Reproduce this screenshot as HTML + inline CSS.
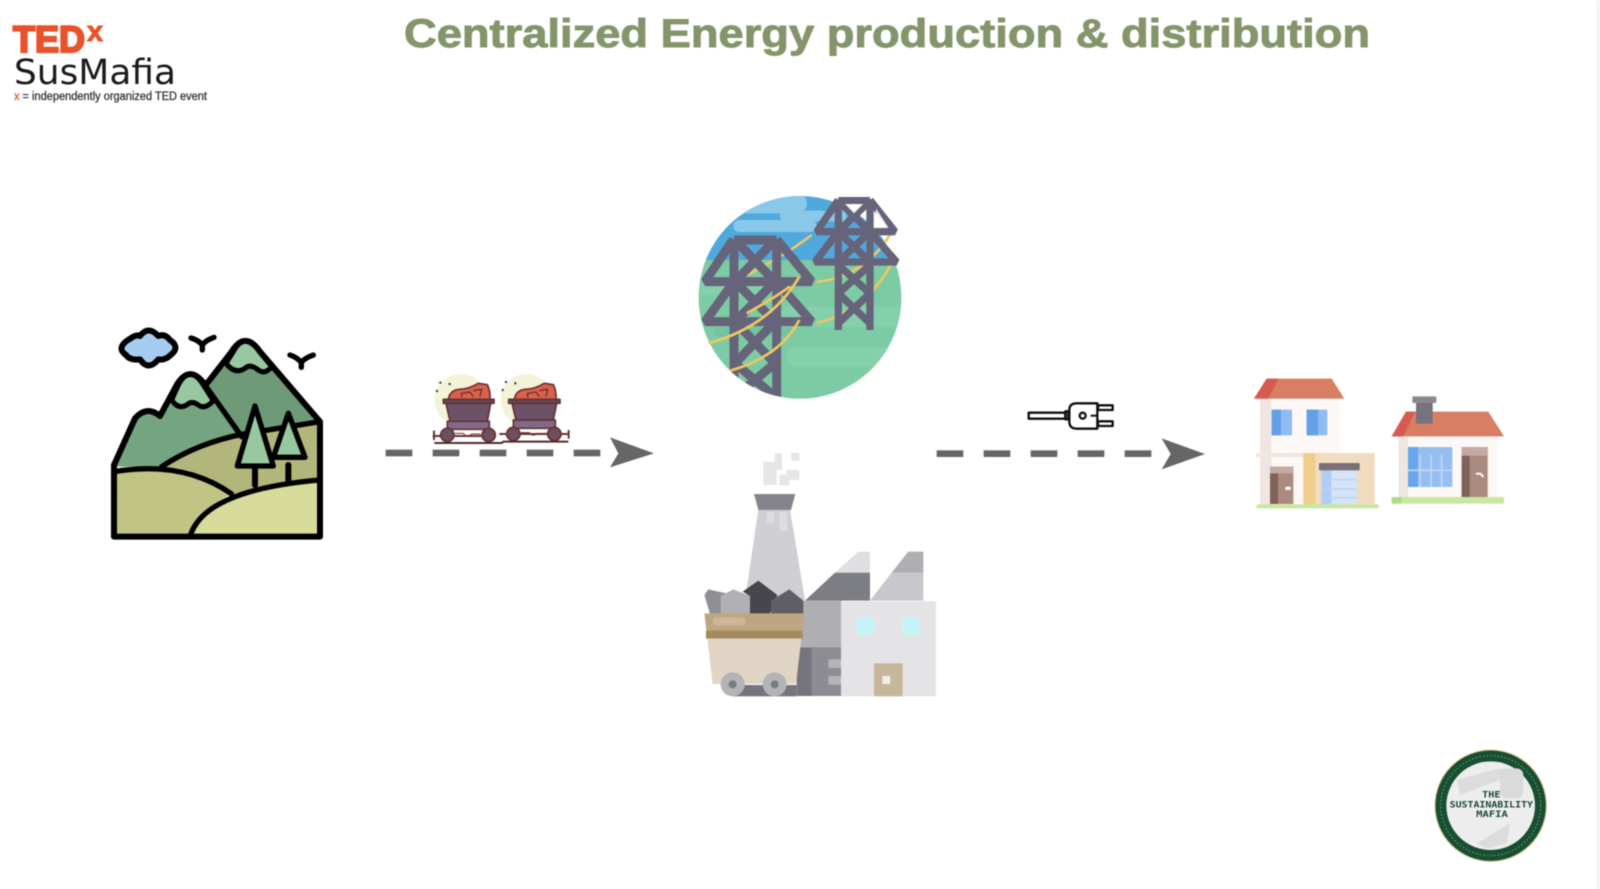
<!DOCTYPE html>
<html><head><meta charset="utf-8"><style>
html,body{margin:0;padding:0;background:#fff;width:1600px;height:889px;overflow:hidden}
svg{display:block;filter:blur(.65px)}
</style></head><body>
<svg width="1600" height="889" viewBox="0 0 1600 889" xmlns="http://www.w3.org/2000/svg">
<defs>
<clipPath id="globe"><circle cx="360" cy="352" r="304"/></clipPath>
</defs>
<rect width="1600" height="889" fill="#fff"/>
<rect x="1596" y="0" width="4" height="889" fill="#f4f4f4"/>

<!-- title -->
<text x="404" y="47" font-family="'Liberation Sans',sans-serif" font-weight="700" font-size="40" fill="#84956b" stroke="#84956b" stroke-width=".9" textLength="966" lengthAdjust="spacingAndGlyphs">Centralized Energy production &amp; distribution</text>

<!-- logo -->
<text x="13" y="52" font-family="'Liberation Sans',sans-serif" font-weight="700" font-size="37" fill="#e8532b" stroke="#e8532b" stroke-width="2.2" textLength="72" lengthAdjust="spacingAndGlyphs">TED</text>
<text x="87" y="41" font-family="'Liberation Sans',sans-serif" font-weight="700" font-size="29" fill="#e8532b" stroke="#e8532b" stroke-width="1" textLength="16" lengthAdjust="spacingAndGlyphs">x</text>
<text x="14" y="84" font-family="'DejaVu Sans',sans-serif" font-size="35" fill="#1a1a1a" textLength="162" lengthAdjust="spacingAndGlyphs">SusMafia</text>
<text x="14" y="100" font-family="'Liberation Sans',sans-serif" font-size="11.5" fill="#333" stroke="#333" stroke-width=".3" textLength="193" lengthAdjust="spacingAndGlyphs"><tspan fill="#e8532b" stroke="#e8532b">x</tspan> = independently organized TED event</text>

<!-- mountains -->
<g transform="translate(90,310) scale(.33333)" stroke-linejoin="round" stroke-linecap="round">
<path d="M335,225 L425,125 Q465,60 510,125 L690,335 L460,375Z" fill="#6f9a78"/>
<path d="M72,470 L135,325 Q170,285 210,318 L260,225 Q300,160 345,225 L455,380 Q320,400 215,470Z" fill="#74a480"/>
<path d="M408,160 L430,125 Q465,60 510,125 L545,170 Q525,195 505,180 Q480,160 465,175 Q435,195 408,160Z" fill="#98c8a0" stroke="#000" stroke-width="15"/>
<path d="M245,270 L265,225 Q300,160 340,225 L370,272 Q345,300 325,285 Q305,270 290,285 Q265,300 245,270Z" fill="#98c8a0" stroke="#000" stroke-width="15"/>
<path d="M210,470 Q320,400 460,372 L690,335 V512 L425,552 Q340,475 210,470Z" fill="#b2b67a"/>
<path d="M72,485 Q280,450 425,552 Q340,590 300,680 H72Z" fill="#c1c485"/>
<path d="M300,680 Q340,540 690,510 V680Z" fill="#d8dc9a"/>
<path d="M72,485 Q280,450 425,552" fill="none" stroke="#000" stroke-width="16"/>
<path d="M215,470 Q320,400 460,372 L690,335" fill="none" stroke="#000" stroke-width="16"/>
<path d="M300,680 Q340,540 690,510" fill="none" stroke="#000" stroke-width="16"/>
<path d="M72,680 V465 L135,325 Q170,285 210,318 L260,225 Q300,160 345,225 L355,215 L425,125 Q465,60 510,125 L690,335 V680Z" fill="none" stroke="#000" stroke-width="18"/>
<path d="M345,225 L455,380" fill="none" stroke="#000" stroke-width="16"/>
<path d="M595,465 V515" stroke="#000" stroke-width="18" fill="none"/>
<path d="M495,465 V525" stroke="#000" stroke-width="18" fill="none"/>
<path d="M595,310 L645,442 H550Z" fill="#98c8a0" stroke="#000" stroke-width="16"/>
<path d="M495,288 L550,468 H442Z" fill="#98c8a0" stroke="#000" stroke-width="16"/>
<path d="M122,85 Q140,72 150,78 Q175,45 205,78 Q225,70 240,90 Q272,112 242,135 Q225,152 205,148 Q175,185 150,148 Q120,152 108,135 Q75,112 122,85Z" fill="#a6cdf0" stroke="#000" stroke-width="18"/>
<path d="M303,84 Q325,90 337,105 Q345,92 372,82 M337,105 V120" fill="none" stroke="#000" stroke-width="16"/>
<path d="M600,135 Q622,142 634,158 Q642,145 670,135 M634,158 V172" fill="none" stroke="#000" stroke-width="16"/>
</g>

<!-- arrow 1 -->
<g transform="translate(370,360) scale(.33333)">
<circle cx="272" cy="120" r="78" fill="#f2f3d8"/>
<circle cx="470" cy="120" r="78" fill="#f2f3d8"/>
<g stroke="#6a3030" stroke-width="5" stroke-linejoin="round">
<path d="M235,118 Q240,90 268,88 Q295,88 325,70 L352,74 Q362,95 360,118Z" fill="#d9614a"/>
<path d="M275,112 V100 L300,96 L310,110 M310,92 L335,88 L330,110" fill="none" stroke-width="4"/>
<path d="M220,118 H372 V130 H220Z" fill="#60485a"/>
<path d="M228,130 H362 L352,184 H240Z" fill="#6b5268"/>
<path d="M232,184 H358 V208 H232Z" fill="#806a8a"/>
<path d="M188,228 H378" fill="none" stroke-width="6"/>
<path d="M192,212 V240" fill="none" stroke-width="6"/>
<circle cx="232" cy="225" r="20" fill="#6b5060"/>
<circle cx="356" cy="225" r="20" fill="#6b5060"/>
<path d="M255,220 H280 Q290,235 305,222 H332" fill="none" stroke-width="3"/>
</g>
<g stroke="#6a3030" stroke-width="5" stroke-linejoin="round">
<path d="M433,118 Q438,90 466,88 Q493,88 523,70 L550,74 Q560,95 558,118Z" fill="#d9614a"/>
<path d="M473,112 V100 L498,96 L508,110 M508,92 L533,88 L528,110" fill="none" stroke-width="4"/>
<path d="M416,118 H570 V130 H416Z" fill="#60485a"/>
<path d="M426,130 H560 L550,180 H438Z" fill="#6b5268"/>
<path d="M430,180 H556 V205 H430Z" fill="#806a8a"/>
<path d="M388,222 H598" fill="none" stroke-width="6"/>
<path d="M596,210 V236" fill="none" stroke-width="6"/>
<circle cx="430" cy="222" r="20" fill="#6b5060"/>
<circle cx="553" cy="222" r="20" fill="#6b5060"/>
<path d="M452,218 H478 Q490,232 502,220 H530" fill="none" stroke-width="3"/>
</g>
<path d="M193,249 H395 L400,245 H595" stroke="#55282c" stroke-width="6" fill="none"/>
<g fill="#333"><circle cx="211" cy="68" r="3.5"/><circle cx="239" cy="72" r="3.5"/><circle cx="201" cy="93" r="3.5"/><circle cx="408" cy="66" r="3.5"/><circle cx="436" cy="70" r="3.5"/><circle cx="398" cy="90" r="3.5"/></g>
<g fill="#666"><rect x="47" y="269" width="80" height="20"/><rect x="188" y="269" width="80" height="20"/><rect x="329" y="269" width="80" height="20"/><rect x="470" y="269" width="80" height="20"/><rect x="611" y="269" width="80" height="20"/>
<path d="M720,232 L852,280 L720,322 L745,280Z"/></g>
</g>

<!-- towers -->
<g transform="translate(680,180) scale(.33333)">
<g clip-path="url(#globe)">
<rect x="0" y="0" width="720" height="240" fill="#4fa9dc"/>
<rect x="0" y="240" width="720" height="450" fill="#7ccba4"/>
<rect x="170" y="40" width="210" height="60" rx="28" fill="#8ac8ea"/>
<rect x="300" y="92" width="200" height="32" rx="16" fill="#8ac8ea"/>
<rect x="160" y="120" width="250" height="36" rx="18" fill="#8ac8ea"/>
<rect x="30" y="305" width="260" height="40" fill="#84d0aa"/>
<rect x="300" y="380" width="400" height="60" rx="30" fill="#84d0aa"/>
<rect x="320" y="500" width="360" height="60" rx="30" fill="#84d0aa"/>
<rect x="100" y="440" width="240" height="30" rx="15" fill="#74c4a0"/>
</g>
<g fill="none" stroke="#f0c760" stroke-width="8">
<path d="M190,290 Q310,230 395,165"/>
<path d="M410,306 Q560,290 638,150"/>
<path d="M410,430 Q560,390 635,250"/>
</g>
<!-- rear tower -->
<g fill="none" stroke="#66647a" stroke-width="22" stroke-linejoin="bevel">
<path d="M475,62 H570"/>
<path d="M475,60 L410,155 H645 L570,60"/>
<path d="M475,58 V450 M570,58 V450"/>
<path d="M475,155 L405,246 H650 L570,155"/>
<path d="M475,62 L570,155 M570,62 L475,155"/>
<path d="M475,155 L570,246 M570,155 L475,246"/>
<path d="M475,255 L570,340 M570,255 L475,340"/>
<path d="M475,340 L570,430 M570,340 L475,430"/>
</g>
<g fill="none" stroke="#fff" stroke-width="0"></g>
<path d="M495,72 H550 L522,100Z M588,85 L625,143 H588Z" fill="#fff" opacity=".9"/>
<!-- front tower -->
<g clip-path="url(#globe)">
<g fill="none" stroke="#66647a" stroke-width="27" stroke-linejoin="bevel">
<path d="M162,180 H290"/>
<path d="M160,178 L75,305 H395 L290,178"/>
<path d="M162,178 V680 M290,178 V680"/>
<path d="M162,305 L75,425 H395 L290,305"/>
<path d="M165,180 L285,305 M285,180 L165,305"/>
<path d="M165,305 L285,425 M285,305 L165,425"/>
<path d="M165,425 L285,550 M285,425 L165,550"/>
<path d="M165,550 L285,650 M285,550 L195,625"/>
</g>
</g>
<g fill="none" stroke="#f0c760" stroke-width="8">
<path d="M85,490 Q270,440 358,290"/>
<path d="M150,572 Q300,530 358,420"/>
<path d="M200,400 Q265,365 330,320"/>
</g>
</g>

<!-- factory -->
<g transform="translate(690,440) scale(.33333)">
<g fill="#e6e6e6"><rect x="254" y="40" width="22" height="50"/><rect x="220" y="65" width="40" height="70"/><rect x="304" y="38" width="24" height="24"/><rect x="290" y="90" width="38" height="30"/><rect x="268" y="104" width="30" height="32"/></g>
<path d="M205,208 H300 L345,480 H165Z" fill="#cfcfd3"/>
<path d="M192,162 H316 L303,210 H205Z" fill="#85868c"/>
<rect x="230" y="215" width="22" height="35" fill="#dcdce0"/><rect x="268" y="215" width="24" height="58" fill="#dcdce0"/>
<path d="M345,482 L435,398 H540 V482Z" fill="#7d7e84"/>
<path d="M435,398 L505,335 H540 V398Z" fill="#dfdfe1"/>
<path d="M540,482 L605,398 H700 V482Z" fill="#c8c8cc"/>
<path d="M605,398 L655,335 H700 V398Z" fill="#aeaeb3"/>
<rect x="330" y="482" width="125" height="140" fill="#aeaeb3"/>
<rect x="320" y="622" width="135" height="146" fill="#75767c"/>
<rect x="365" y="622" width="90" height="146" fill="#8c8d93"/>
<rect x="415" y="658" width="38" height="26" fill="#b4b4b8"/><rect x="415" y="708" width="38" height="26" fill="#b4b4b8"/>
<rect x="453" y="484" width="285" height="285" fill="#e4e4e7"/>
<rect x="501" y="533" width="52" height="52" fill="#c6f4f6"/><rect x="637" y="533" width="52" height="52" fill="#c6f4f6"/>
<rect x="552" y="670" width="86" height="99" fill="#c8b69a"/>
<rect x="577" y="708" width="24" height="24" fill="#eee"/>
<path d="M60,522 L43,465 L55,448 L110,460 L180,522Z" fill="#8f9096"/>
<path d="M92,468 L130,448 L180,468 V522 H92Z" fill="#b0b0b5"/>
<path d="M158,455 L205,422 L262,465 L240,522 H180 V468Z" fill="#47464c"/>
<path d="M243,482 L298,448 L340,482 V522 H243Z" fill="#5e5e64"/>
<path d="M43,520 H342 L336,596 H52Z" fill="#bea680"/>
<rect x="48" y="572" width="290" height="24" fill="#a5895f"/>
<rect x="68" y="532" width="98" height="24" rx="10" fill="#ccb898"/>
<path d="M52,596 H334 L318,732 H68Z" fill="#e0d5c5"/>
<rect x="130" y="735" width="190" height="34" fill="#75767c"/>
<circle cx="128" cy="733" r="36" fill="#b3b3b8"/><circle cx="128" cy="733" r="12" fill="#7a7a80"/>
<circle cx="254" cy="733" r="36" fill="#b3b3b8"/><circle cx="254" cy="733" r="12" fill="#7a7a80"/>
</g>

<!-- arrow 2 -->
<g transform="translate(920,380) scale(.33333)">
<g fill="#666"><rect x="50" y="211" width="80" height="20"/><rect x="191" y="211" width="80" height="20"/><rect x="332" y="211" width="80" height="20"/><rect x="473" y="211" width="80" height="20"/><rect x="614" y="211" width="80" height="20"/>
<path d="M725,175 L855,222 L725,268 L752,222Z"/></g>
<g fill="#fff" stroke="#111" stroke-width="7" stroke-linejoin="round">
<rect x="326" y="98" width="110" height="18"/>
<rect x="534" y="76" width="44" height="14"/><rect x="534" y="124" width="44" height="14"/>
<path d="M470,70 H532 V146 H470 Q448,146 448,125 V90 Q448,70 470,70Z"/>
<rect x="436" y="94" width="10" height="24" fill="#555"/>
<circle cx="488" cy="107" r="9"/>
</g>
<path d="M512,107 H532" stroke="#111" stroke-width="6"/>
</g>

<!-- houses -->
<g transform="translate(1240,365) scale(.33333)">
<rect x="60" y="100" width="240" height="318" fill="#fdf7f5"/>
<rect x="60" y="100" width="34" height="318" fill="#efe5e1"/>
<rect x="48" y="264" width="150" height="12" fill="#efe5e1"/>
<path d="M80,41 H275 L313,101 H42Z" fill="#d87e64"/>
<path d="M80,41 H116 L84,101 H42Z" fill="#d65a50"/>
<rect x="95" y="134" width="61" height="77" rx="3" fill="#8fbcf0"/><rect x="95" y="134" width="28" height="77" fill="#659fe8"/>
<rect x="200" y="134" width="62" height="77" rx="3" fill="#8fbcf0"/><rect x="200" y="134" width="34" height="77" fill="#659fe8"/>
<rect x="90" y="305" width="70" height="112" fill="#ab8a80"/><rect x="90" y="325" width="24" height="92" fill="#80625a"/><rect x="90" y="305" width="70" height="20" fill="#c4aaa2"/>
<rect x="136" y="365" width="16" height="10" rx="3" fill="#fff"/>
<rect x="190" y="264" width="214" height="154" fill="#f2dcc0"/>
<rect x="190" y="264" width="36" height="154" fill="#efce8c"/>
<rect x="244" y="300" width="108" height="118" fill="#d5e4f8"/>
<rect x="244" y="316" width="30" height="102" fill="#aecdf4"/>
<rect x="244" y="342" width="108" height="4" fill="#b8d2f4"/><rect x="244" y="370" width="108" height="4" fill="#b8d2f4"/><rect x="244" y="396" width="108" height="4" fill="#b8d2f4"/>
<rect x="237" y="294" width="122" height="22" rx="3" fill="#7b6f78"/>
<rect x="50" y="418" width="366" height="12" fill="#c8e8a0"/>

<rect x="476" y="212" width="295" height="186" fill="#fdf7f5"/>
<rect x="476" y="212" width="28" height="186" fill="#efe5e1"/>
<path d="M498,140 H745 L792,214 H455Z" fill="#d87e64"/>
<path d="M498,140 H525 L490,214 H455Z" fill="#d65a50"/>
<rect x="528" y="110" width="50" height="66" fill="#76727e"/>
<rect x="517" y="94" width="72" height="20" rx="3" fill="#8c8890"/>
<rect x="504" y="246" width="133" height="120" rx="3" fill="#95bff2"/>
<rect x="504" y="246" width="30" height="120" fill="#6aa4ea"/>
<path d="M540,270 V366 M573,270 V366 M605,270 V366 M504,316 H637" stroke="#c0d8f8" stroke-width="5" fill="none"/>
<rect x="665" y="246" width="78" height="150" fill="#ab8a80"/><rect x="665" y="272" width="24" height="124" fill="#80625a"/><rect x="665" y="246" width="78" height="26" fill="#c4aaa2"/>
<path d="M708,328 Q720,320 730,336" stroke="#fff" stroke-width="6" fill="none"/>
<rect x="455" y="396" width="337" height="20" rx="4" fill="#c8e8a0"/>
<rect x="455" y="396" width="30" height="20" fill="#b0da88"/>
</g>

<!-- badge -->
<g transform="translate(1420,740) scale(.33333)">
<circle cx="212" cy="197" r="167" fill="#184f33" stroke="#d8c48a" stroke-width="3"/>
<circle cx="212" cy="197" r="150" fill="none" stroke="#6d9a6a" stroke-width="3" stroke-dasharray="5 6"/>
<circle cx="212" cy="197" r="133" fill="#ededed"/>
<path d="M110,120 L240,85 L290,100 L120,165Z" fill="#dcdcdc"/>
<path d="M170,310 L270,250 L260,310 L200,325Z" fill="#dcdcdc"/>
<rect x="240" y="85" width="70" height="90" rx="20" fill="#dadada"/>
<g font-family="'DejaVu Sans Mono','Liberation Mono',monospace" font-weight="700" fill="#1d4a38" text-anchor="middle" font-size="26">
<text x="214" y="173" textLength="55" lengthAdjust="spacingAndGlyphs">THE</text>
<text x="214" y="203" textLength="250" lengthAdjust="spacingAndGlyphs">SUSTAINABILITY</text>
<text x="216" y="231" textLength="95" lengthAdjust="spacingAndGlyphs">MAFIA</text>
</g>
</g>
</svg>
</body></html>
